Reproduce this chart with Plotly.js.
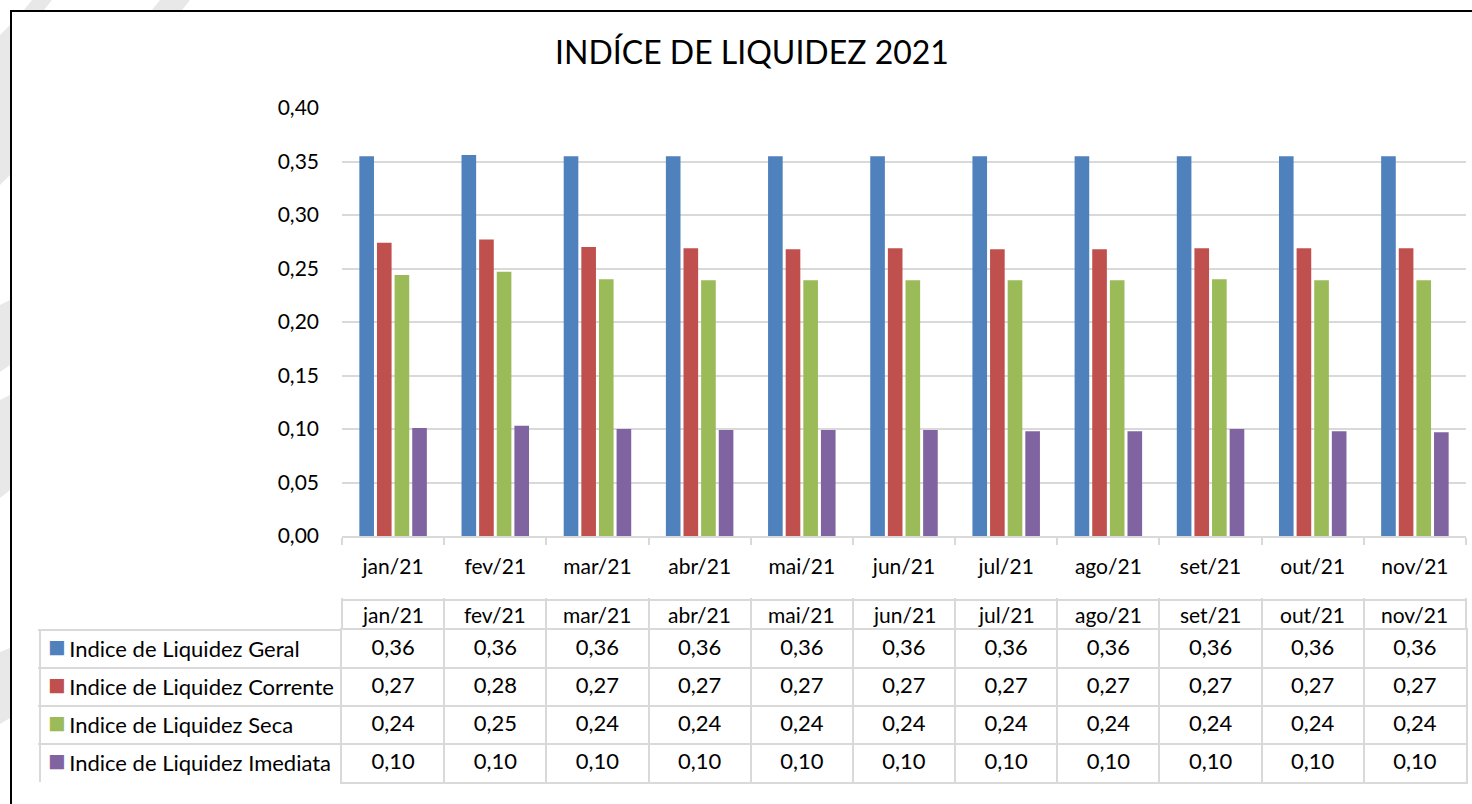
<!DOCTYPE html>
<html>
<head>
<meta charset="utf-8">
<script src="https://cdn.plot.ly/plotly-3.0.1.min.js"></script>
<style>html,body{margin:0;padding:0;background:#fff;}#chart{width:1472px;height:804px;}</style>
</head>
<body>
<div id="chart"></div>
<script>
const months = ['jan/21','fev/21','mar/21','abr/21','mai/21','jun/21','jul/21','ago/21','set/21','out/21','nov/21'];
const seriesNames = ['Indice de Liquidez Geral','Indice de Liquidez Corrente','Indice de Liquidez Seca','Indice de Liquidez Imediata'];
const geral     = [0.355, 0.356, 0.355, 0.355, 0.355, 0.355, 0.355, 0.355, 0.355, 0.355, 0.355];
const corrente  = [0.274, 0.277, 0.270, 0.269, 0.268, 0.269, 0.268, 0.268, 0.269, 0.269, 0.269];
const seca      = [0.244, 0.247, 0.240, 0.239, 0.239, 0.239, 0.239, 0.239, 0.240, 0.239, 0.239];
const imediata  = [0.101, 0.103, 0.100, 0.099, 0.099, 0.099, 0.098, 0.098, 0.100, 0.098, 0.097];
const colors = ['#4F81BD','#C0504D','#9BBB59','#8064A2'];
const titleText = 'INDÍCE DE LIQUIDEZ 2021';

const W = 1472, H = 804;
const px = v => v / W;
const py = v => 1 - v / H;
const FONT = 'Lato, sans-serif';
const GRID = '#d9d9d9';

const allSeries = [geral, corrente, seca, imediata];
const fmt = v => (Math.round(v * 100 + 1e-9) / 100).toFixed(2).replace('.', ',');

const traces = allSeries.map((s, i) => ({
  type: 'bar', x: months, y: s, name: seriesNames[i],
  xaxis: 'x', yaxis: 'y',
  marker: {color: colors[i], line: {width: 0}},
  showlegend: false, hoverinfo: 'skip'
}));

// data table values as a text trace on the table axes
const tx = [], ty = [], tt = [];
allSeries.forEach((s, i) => s.forEach((v, j) => { tx.push(months[j]); ty.push(seriesNames[i]); tt.push(fmt(v)); }));
traces.push({
  type: 'scatter', mode: 'text', xaxis: 'x2', yaxis: 'y2',
  x: tx, y: ty, text: tt, textposition: 'middle center',
  textfont: {family: FONT, size: 22, color: '#000'},
  showlegend: false, hoverinfo: 'skip'
});

const annotations = [];
months.forEach(m => annotations.push({
  xref: 'x2', x: m, yref: 'paper', y: py(614), yanchor: 'middle', xanchor: 'center',
  text: m, showarrow: false, font: {family: FONT, size: 21, color: '#000'}
}));
seriesNames.forEach((n, i) => annotations.push({
  xref: 'paper', x: px(46), xanchor: 'left', yref: 'y2', y: n, yanchor: 'middle', yshift: 4,
  text: '<span style="color:' + colors[i] + ';font-size:29px">■</span>\u2006' + n,
  showarrow: false, font: {family: FONT, size: 22, color: '#000'}
}));

const stripes = [
  [[32,0],[52,0],[44,10],[24,10]],
  [[160,0],[190,0],[182,10],[152,10]],
  [[0,35],[10,25],[10,175],[0,185]],
  [[0,305],[10,300],[10,365],[0,372]],
  [[0,400],[10,395],[10,490],[0,498]],
  [[0,652],[10,648],[10,718],[0,724]]
].map(pts => ({
  type: 'path', xref: 'paper', yref: 'paper', layer: 'below',
  path: 'M' + pts.map(p => px(p[0]) + ',' + py(p[1])).join('L') + 'Z',
  fillcolor: '#e8e8e8', line: {width: 0}
}));

const shapes = stripes.concat([
  {type: 'line', xref: 'x2 domain', x0: 0, x1: 1, yref: 'paper', y0: py(600), y1: py(600),
   line: {color: GRID, width: 2}},
  {type: 'line', xref: 'paper', x0: px(40), x1: px(40), yref: 'y2 domain', y0: 0, y1: 1,
   line: {color: GRID, width: 2}},
  {type: 'rect', xref: 'paper', yref: 'paper',
   x0: px(11), x1: px(1490), y0: py(820), y1: py(11),
   line: {color: '#000', width: 2}, fillcolor: 'rgba(0,0,0,0)'}
]);

const layout = {
  width: W, height: H,
  margin: {l: 0, r: 0, t: 0, b: 0},
  paper_bgcolor: 'white', plot_bgcolor: 'rgba(0,0,0,0)',
  separators: ',.',
  font: {family: FONT, color: '#000'},
  title: {text: titleText, x: px(752), xanchor: 'center', y: py(53), yanchor: 'middle',
          font: {family: FONT, size: 32, color: '#000'}},
  barmode: 'group', bargap: 0.31, bargroupgap: 0.17,
  xaxis: {
    domain: [px(342), px(1466)], type: 'category', categoryarray: months, range: [-0.5, 10.5],
    anchor: 'y',
    showline: true, linecolor: GRID, linewidth: 2,
    ticks: 'outside', tickson: 'boundaries', ticklen: 7, tickcolor: GRID, tickwidth: 2,
    ticklabelstandoff: 11,
    showgrid: false, tickfont: {family: FONT, size: 21, color: '#000'}
  },
  yaxis: {
    domain: [py(536), py(108)], range: [0, 0.4], dtick: 0.05, tickformat: '.2f',
    anchor: 'x',
    showgrid: true, gridcolor: GRID, gridwidth: 2, zeroline: false,
    showline: false, ticks: '', ticklabelstandoff: 22,
    tickfont: {family: FONT, size: 21, color: '#000'}
  },
  xaxis2: {
    domain: [px(342), px(1466)], type: 'category', categoryarray: months, range: [-0.5, 10.5],
    anchor: 'y2', side: 'top',
    showline: true, mirror: true, linecolor: GRID, linewidth: 2,
    ticks: 'outside', tickson: 'boundaries', ticklen: 30, tickcolor: GRID, tickwidth: 2,
    showgrid: true, gridcolor: GRID, gridwidth: 2, showticklabels: false, zeroline: false
  },
  yaxis2: {
    domain: [py(782), py(630)], type: 'category',
    categoryarray: seriesNames.slice().reverse(), range: [-0.5, 3.5],
    anchor: 'x2',
    showline: true, mirror: true, linecolor: GRID, linewidth: 2,
    ticks: 'outside', tickson: 'boundaries', ticklen: 302, tickcolor: GRID, tickwidth: 2,
    showgrid: true, gridcolor: GRID, gridwidth: 2, showticklabels: false, zeroline: false
  },
  annotations: annotations,
  shapes: shapes
};

Plotly.newPlot('chart', traces, layout, {staticPlot: true, displayModeBar: false});
</script>
</body>
</html>
